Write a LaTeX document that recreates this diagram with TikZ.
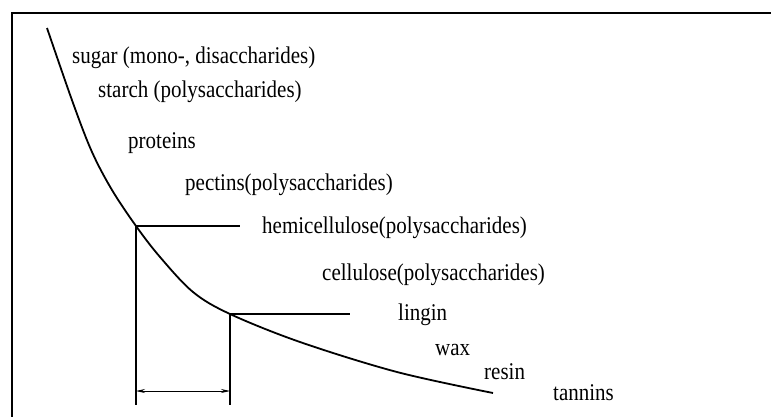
\documentclass[tikz,border=0pt]{standalone}
\usepackage{fontspec}
\setmainfont{Liberation Serif}[FakeStretch=0.875]
\usetikzlibrary{arrows.meta}
\begin{document}
\begin{tikzpicture}[x=1pt,y=-1pt,
  lbl/.style={anchor=west,inner sep=0pt,font=\fontsize{24}{27}\selectfont},
  curveline/.style={line width=1.8pt},
  leader/.style={line width=1.8pt},
  dimline/.style={line width=0.8pt,{Stealth[length=9pt,width=4pt]}-{Stealth[length=9pt,width=4pt]}},
  framel/.style={line width=2.4pt}]
\useasboundingbox (0,0) rectangle (771,416);
% frame (only left and top visible)
\coordinate (fbl) at (12,420);
\coordinate (ftl) at (12,13);
\coordinate (ftr) at (775,13);
\draw[framel] (fbl) -- (ftl) -- (ftr);
% corners
\coordinate (c1) at (136,226);
\coordinate (c2) at (230,314);
\coordinate (h1) at (240,226);
\coordinate (h2) at (350,314);
\coordinate (b1) at (136,405);
\coordinate (b2) at (230,405);
\coordinate (a1) at (136,391);
\coordinate (a2) at (230,391);
% curve
\draw[curveline] plot[smooth,tension=0.55] coordinates {(47,28) (73,103) (92,152) (112,190) (136,226) (160,257) (193,292) (230,314) (300,342) (397,372) (493,393)};
% leaders
\draw[leader] (c1) -- (h1);
\draw[leader] (c2) -- (h2);
\draw[leader] (c1) -- (b1);
\draw[leader] (c2) -- (b2);
\draw[dimline] (a1) -- (a2);
% labels
\node[lbl] (sugar) at (72,58) {sugar (mono-, disaccharides)};
\node[lbl] (starch) at (98,92) {starch (polysaccharides)};
\node[lbl] (prot) at (128,143) {proteins};
\node[lbl] (pect) at (185,185) {pectins(polysaccharides)};
\node[lbl] (hemi) at (262,228) {hemicellulose(polysaccharides)};
\node[lbl] (cell) at (322,275) {cellulose(polysaccharides)};
\node[lbl] (lign) at (398,315) {lingin};
\node[lbl] (wax) at (435,350) {wax};
\node[lbl] (resin) at (484,372) {resin};
\node[lbl] (tann) at (553,393) {tannins};
\end{tikzpicture}
\end{document}
